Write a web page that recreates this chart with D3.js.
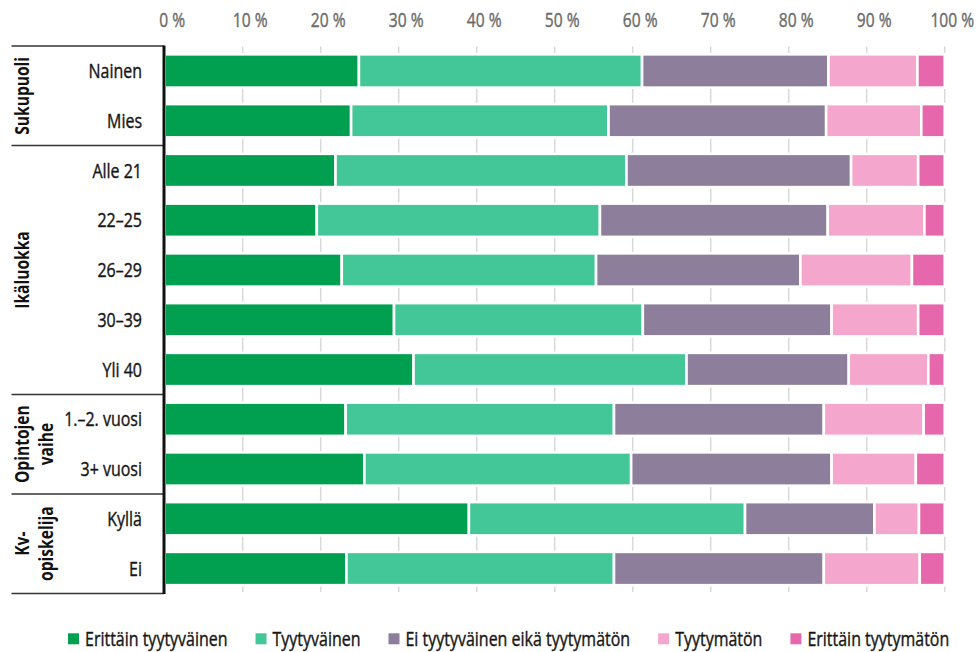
<!DOCTYPE html>
<html lang="fi">
<head>
<meta charset="utf-8">
<title>Tyytyväisyys</title>
<script src="https://cdn.jsdelivr.net/npm/d3@7"></script>
<style>
  html, body { margin: 0; padding: 0; background: #fff; }
  svg { display: block; }
  text { font-family: "Open Sans", "Noto Sans", sans-serif; }
  .heavy { stroke-width: 0.4px; paint-order: stroke; }
</style>
</head>
<body>
<svg id="chart" width="979" height="652"></svg>
<script>
// Rows, top to bottom
const categories = ["Nainen", "Mies", "Alle 21", "22–25", "26–29", "30–39", "Yli 40",
  "1.–2. vuosi", "3+ vuosi", "Kyllä", "Ei"];

// Row groups (label lines and number of rows in each)
const groupLabels = [["Sukupuoli"], ["Ikäluokka"], ["Opintojen", "vaihe"], ["Kv-", "opiskelija"]];
const groupSizes = [2, 5, 2, 2];

// Answer options
const seriesNames = ["Erittäin tyytyväinen", "Tyytyväinen", "Ei tyytyväinen eikä tyytymätön",
  "Tyytymätön", "Erittäin tyytymätön"];
const seriesColors = ["#00a050", "#43c799", "#8d7e9c", "#f4a6cc", "#e767ac"];

// Shares (%) per row
const verySatisfied    = [24.9, 23.9, 21.9, 19.5, 22.7, 29.4, 31.9, 23.2, 25.6, 39.0, 23.3];
const satisfied        = [36.3, 33.0, 37.3, 36.3, 32.6, 31.9, 35.0, 34.4, 34.2, 35.4, 34.3];
const neutral          = [23.9, 27.9, 28.8, 29.2, 26.2, 24.2, 20.8, 26.9, 25.7, 16.6, 26.9];
const dissatisfied     = [11.4, 12.2,  8.6, 12.4, 14.3, 11.1, 10.2, 12.8, 10.8,  5.7, 12.3];
const veryDissatisfied = [ 3.5,  3.0,  3.4,  2.6,  4.2,  3.4,  2.1,  2.7,  3.7,  3.3,  3.2];

// Axis ticks
const tickValues = [0, 10, 20, 30, 40, 50, 60, 70, 80, 90, 100];
const tickLabels = ["0 %", "10 %", "20 %", "30 %", "40 %", "50 %", "60 %", "70 %", "80 %", "90 %", "100 %"];

const seriesValues = [verySatisfied, satisfied, neutral, dissatisfied, veryDissatisfied];
const table = categories.map((c, i) => {
  const row = { category: c };
  seriesNames.forEach((s, k) => { row[s] = seriesValues[k][i]; });
  return row;
});

const svg = d3.select("#chart");

// Horizontal condensing factor so the text reads as a narrow face
function measure(str, size, weight) {
  const t = svg.append("text").attr("font-size", size).attr("font-weight", weight).text(str);
  const w = t.node().getComputedTextLength();
  t.remove();
  return w;
}
const squeeze = 142.6 / measure("Erittäin tyytyväinen", 20, "normal");
const squeezeBold = 78 / measure("Sukupuoli", 20, "bold");

// Place a text at (px, py) squeezed horizontally around that point
function placeText(sel, px, py, k) {
  sel.attr("x", 0).attr("y", 0)
    .attr("transform", (d, i, n) => {
      const a = typeof px === "function" ? px(d, i, n) : px;
      const b = typeof py === "function" ? py(d, i, n) : py;
      return `translate(${a},${b}) scale(${k},1)`;
    });
}

const x = d3.scaleLinear().domain([0, 100]).range([164.7, 944.7]);
const y = d3.scaleBand().domain(categories).range([46.1, 593.4])
  .paddingInner(0.331).paddingOuter(0.1655);

// Vertical gridlines
svg.append("g")
  .selectAll("line")
  .data(tickValues.slice(1))
  .join("line")
  .attr("x1", d => x(d)).attr("x2", d => x(d))
  .attr("y1", 46.5).attr("y2", 592)
  .attr("stroke", "#d9d9d9")
  .attr("stroke-width", 1.5);

// Top axis labels
const axisTop = d3.axisTop(x)
  .tickValues(tickValues)
  .tickFormat((d, i) => tickLabels[i])
  .tickSize(0)
  .tickPadding(0);
const axisG = svg.append("g").attr("transform", "translate(0,27)").call(axisTop);
axisG.select(".domain").remove();
axisG.attr("font-family", null).attr("font-size", null);
axisG.selectAll("text")
  .attr("class", "heavy")
  .attr("dy", 0)
  .attr("font-size", 19.5)
  .attr("fill", "#6b6b6b")
  .attr("stroke", "#6b6b6b");
placeText(axisG.selectAll("text"), 7, 0, squeeze);

// Stacked bars
const stack = d3.stack().keys(seriesNames);
const layers = stack(table);
svg.append("g")
  .selectAll("g")
  .data(layers)
  .join("g")
  .attr("fill", (d, i) => seriesColors[i])
  .selectAll("rect")
  .data(d => d)
  .join("rect")
  .attr("x", d => x(d[0]))
  .attr("width", d => x(d[1]) - x(d[0]))
  .attr("y", d => y(d.data.category))
  .attr("height", y.bandwidth())
  .attr("stroke", "#fff")
  .attr("stroke-width", 2.6);

// Left table: group separators
const bounds = [0];
groupSizes.forEach(n => bounds.push(bounds[bounds.length - 1] + n));
const step = y.step();
const rowEdge = k => y.range()[0] + k * step;

svg.append("g")
  .selectAll("line")
  .data(bounds)
  .join("line")
  .attr("x1", 11.5).attr("x2", 164)
  .attr("y1", d => rowEdge(d)).attr("y2", d => rowEdge(d))
  .attr("stroke", "#333")
  .attr("stroke-width", 1.5);

// Vertical axis line
svg.append("line")
  .attr("x1", 164).attr("x2", 164)
  .attr("y1", rowEdge(0) - 0.5).attr("y2", rowEdge(categories.length) + 0.5)
  .attr("stroke", "#111")
  .attr("stroke-width", 3);

// Category labels
const catText = svg.append("g")
  .selectAll("text")
  .data(categories)
  .join("text")
  .attr("class", "heavy")
  .attr("dy", "0.36em")
  .attr("text-anchor", "end")
  .attr("font-size", 20)
  .attr("fill", "#161616")
  .attr("stroke", "#161616")
  .text(d => d);
placeText(catText, 142, d => y(d) + y.bandwidth() / 2, squeeze);

// Group labels, rotated
const groupG = svg.append("g")
  .selectAll("g")
  .data(groupLabels)
  .join("g")
  .attr("transform", (d, i) => {
    const cy = (rowEdge(bounds[i]) + rowEdge(bounds[i + 1])) / 2;
    return `translate(0,${cy}) rotate(-90)`;
  });
groupG.each(function (lines) {
  const t = d3.select(this).selectAll("text")
    .data(lines)
    .join("text")
    .attr("text-anchor", "middle")
    .attr("font-size", 20)
    .attr("font-weight", "bold")
    .attr("fill", "#111")
    .text(d => d);
  placeText(t, 0, (d, j) => 28.5 + j * 24, squeezeBold);
});

// Legend
const legend = svg.append("g").attr("transform", "translate(68,0)");
let lx = 0;
seriesNames.forEach((name, i) => {
  const item = legend.append("g").attr("transform", `translate(${lx},0)`);
  item.append("rect")
    .attr("x", 0).attr("y", 633.3)
    .attr("width", 11).attr("height", 11)
    .attr("fill", seriesColors[i]);
  const t = item.append("text")
    .attr("class", "heavy")
    .attr("font-size", 20)
    .attr("fill", "#161616")
    .attr("stroke", "#161616")
    .text(name);
  placeText(t, 17, 646, squeeze);
  lx += 17 + t.node().getComputedTextLength() * squeeze + 28;
});
</script>
</body>
</html>
